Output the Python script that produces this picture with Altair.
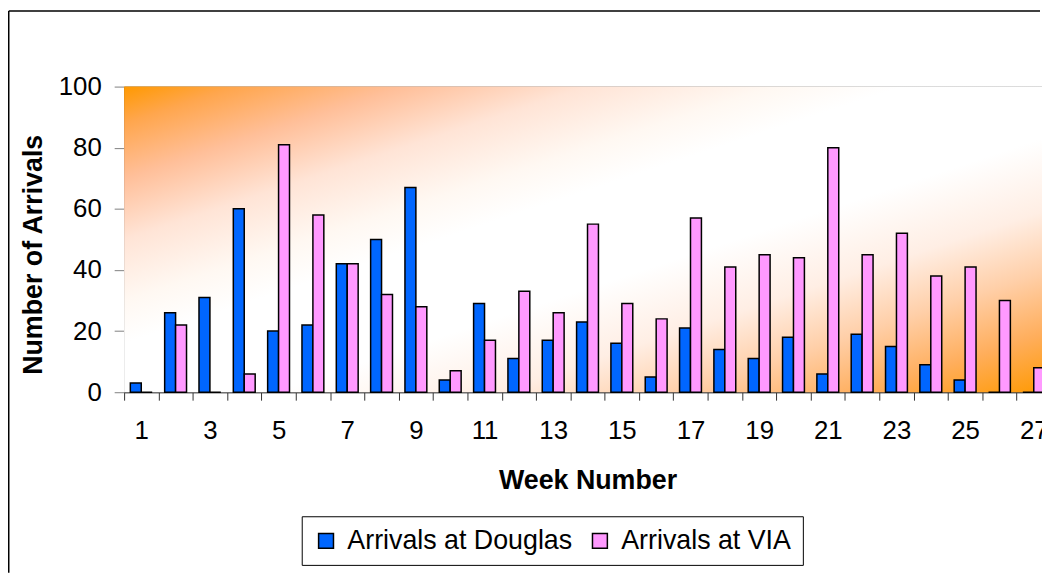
import altair as alt
import pandas as pd

weeks = list(range(1, 28))
douglas = [3, 26, 31, 60, 20, 22, 42, 50, 67, 4, 29, 11, 17, 23, 16, 5, 21, 14, 11, 18, 6, 19, 15, 9, 4, 0, 0]
via = [0, 22, 0, 6, 81, 58, 42, 32, 28, 7, 17, 33, 26, 55, 29, 24, 57, 41, 45, 44, 80, 45, 52, 38, 41, 30, 8]
series_names = ["Arrivals at Douglas", "Arrivals at VIA"]
series_colors = ["#0066FF", "#FF99FF"]
y_ticks = [0, 20, 40, 60, 80, 100]

rows = []
for w, d, v in zip(weeks, douglas, via):
    rows.append({"week": w, "series": series_names[0], "value": d})
    rows.append({"week": w, "series": series_names[1], "value": v})
df = pd.DataFrame(rows)

PLOT_W = 925     # visible part (the reference is cropped at the window edge)
RANGE_W = 934    # full width of the 27 week bands
PLOT_H = 308
PAD_L, PAD_T, PAD_B = 117, 77, 184
FONT = "Liberation Sans"

gradient = alt.LinearGradient(
    gradient="linear", x1=0, y1=0, x2=1, y2=1,
    stops=[
        alt.GradientStop(color="#FF9900", offset=0.0),
        alt.GradientStop(color="#FFA64D", offset=0.06),
        alt.GradientStop(color="#FFBF99", offset=0.15),
        alt.GradientStop(color="#FFE4D6", offset=0.25),
        alt.GradientStop(color="#FFF8F2", offset=0.35),
        alt.GradientStop(color="#FFFFFF", offset=0.42),
        alt.GradientStop(color="#FFFFFF", offset=0.58),
        alt.GradientStop(color="#FFEEE4", offset=0.70),
        alt.GradientStop(color="#FFCFA8", offset=0.80),
        alt.GradientStop(color="#FFAE5C", offset=0.90),
        alt.GradientStop(color="#FF9900", offset=1.0),
    ],
)

frame_df = pd.DataFrame({"k": [0]})
bg_df = pd.DataFrame({"k": [1]})

# outer chart frame: left and top edges (the rest lies outside the cropped view)
frame = alt.Chart(frame_df).mark_rule(color="black", strokeWidth=1.5).encode(
    x=alt.value(-PAD_L + 0.75), y=alt.value(-PAD_T + 0.75), y2=alt.value(PLOT_H + PAD_B - 2)
)
frame2 = alt.Chart(frame_df).mark_rule(color="black", strokeWidth=1.5).encode(
    x=alt.value(-PAD_L + 0.75), x2=alt.value(PLOT_W - 2), y=alt.value(-PAD_T + 0.75)
)

bg = alt.Chart(bg_df).mark_rect(fill=gradient).encode(
    x=alt.value(0), x2=alt.value(RANGE_W), y=alt.value(0), y2=alt.value(PLOT_H)
)

bars = alt.Chart(df).mark_bar(stroke="black", strokeWidth=1.5).encode(
    x=alt.X(
        "week:O",
        title="Week Number",
        scale=alt.Scale(range=[0, RANGE_W], paddingInner=0, paddingOuter=0),
        axis=alt.Axis(
            labelAngle=0,
            labelExpr="datum.value % 2 == 1 ? datum.label : ''",
            tickBand="extent",
            tickSize=8,
            tickColor="#333333",
            domainColor="#333333",
            labelPadding=18,
            labelFont=FONT,
            labelFontSize=26,
            labelColor="black",
            grid=False,
            titleFont=FONT,
            titleFontSize=27,
            titleFontWeight="bold",
            titleColor="black",
            titleX=467,
            titleY=97,
            titleAlign="center",
            titleBaseline="alphabetic",
        ),
    ),
    xOffset=alt.XOffset(
        "series:N", sort=series_names,
        scale=alt.Scale(paddingInner=0, paddingOuter=0.57),
    ),
    y=alt.Y(
        "value:Q",
        title="Number of Arrivals",
        scale=alt.Scale(domain=[0, 100], nice=False),
        axis=alt.Axis(
            values=y_ticks,
            tickSize=10,
            tickColor="#808080",
            domainColor="#333333",
            labelPadding=13,
            labelFont=FONT,
            labelFontSize=26,
            labelColor="black",
            grid=True,
            gridColor="#555555",
            gridWidth=1,
            titleFont=FONT,
            titleFontSize=27,
            titleFontWeight="bold",
            titleColor="black",
            titleAngle=270,
            titleX=-83,
            titleY=169,
            titleAlign="center",
            titleBaseline="alphabetic",
        ),
    ),
    color=alt.Color(
        "series:N",
        scale=alt.Scale(domain=series_names, range=series_colors),
        legend=alt.Legend(
            title=None,
            orient="none",
            legendX=179,
            legendY=433,
            direction="horizontal",
            fillColor="white",
            strokeColor="black",
            padding=11,
            symbolType="square",
            symbolSize=225,
            symbolStrokeColor="black",
            symbolStrokeWidth=1.5,
            symbolOpacity=1,
            labelFont=FONT,
            labelFontSize=27,
            labelColor="black",
            labelOffset=8,
            labelLimit=500,
            columnPadding=14,
        ),
    ),
)

chart = alt.layer(bg, bars, frame, frame2).properties(
    width=PLOT_W,
    height=PLOT_H,
    autosize=alt.AutoSizeParams(type="none"),
    padding={"left": PAD_L, "top": PAD_T, "right": 0, "bottom": PAD_B},
    background="white",
).configure_view(stroke="transparent")

chart.save("out.html", embed_options={"renderer": "svg", "actions": False})
